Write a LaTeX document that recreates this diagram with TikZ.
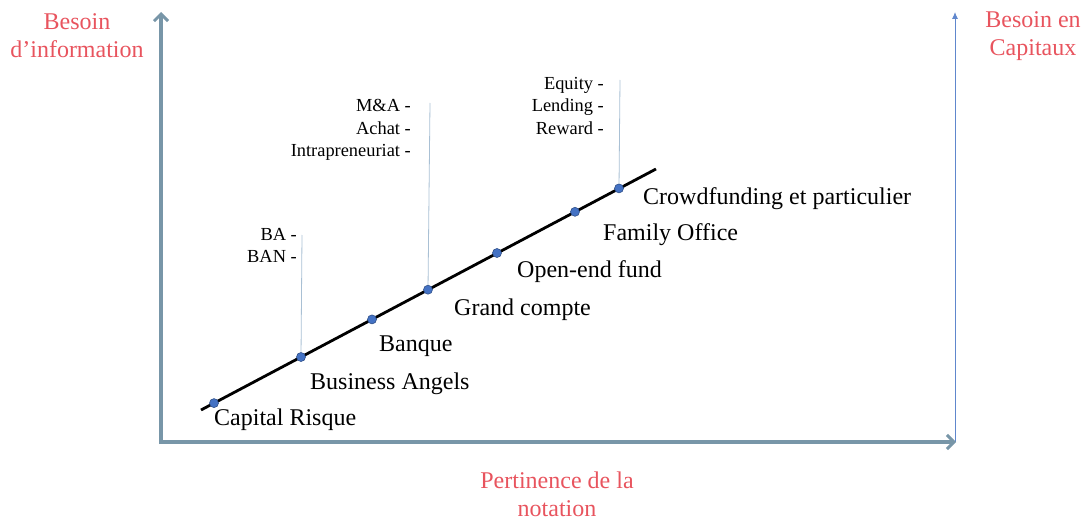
\documentclass[tikz,border=0pt]{standalone}
\usepackage{fontspec}
\setmainfont{Liberation Serif}
\usetikzlibrary{arrows.meta,positioning}
\definecolor{axisgray}{HTML}{7896A8}
\definecolor{titlered}{HTML}{E8545E}
\definecolor{dotblue}{HTML}{4472C4}
\definecolor{stemblue}{HTML}{A9C0D4}
\tikzset{
	axis/.style={axisgray,line width=3.2pt,-{Straight Barb[length=7pt,width=14pt,line width=3pt]}},
	title/.style={titlered,align=center,inner sep=0pt,font=\fontsize{24}{28}\selectfont},
	dot/.style={circle,fill=dotblue,draw=dotblue!70!black,line width=.6pt,inner sep=0pt,minimum size=9pt},
	stage/.style={anchor=west,inner sep=0pt,font=\fontsize{24}{28}\selectfont},
	tags/.style={anchor=north east,align=right,inner sep=0pt,font=\fontsize{18.4}{22.6}\selectfont},
	stem/.style={stemblue,line width=.8pt}
}
\begin{document}
\begin{tikzpicture}[x=1pt,y=-1pt]
	\useasboundingbox (0,0) rectangle (1088,519);
	\coordinate (O) at (161,442);% origin
	\coordinate (Y) at (161,12);
	\coordinate (X) at (956,442);
	\coordinate (R) at (955,12);
	\draw[dotblue!85,line width=.9pt,-{Latex[length=7pt,width=6pt]}] (955,442) -- (R);% right axis
	\draw[axis] (161,444) -- (Y);% left axis
	\draw[axis] (159.4,442) -- (X);% bottom axis
	\node[title] (yname) at (77,36) {Besoin\\d’information};
	\node[title] (rname) at (1033,36) {Besoin en\\Capitaux};
	\node[title] (xname) at (557,494) {Pertinence de la\\notation};
	\coordinate (S) at (201,410);
	\coordinate (E) at (656,169);
	\draw[black,line width=2.8pt] (S) -- (E);% main line
	\node[dot] (vc) at (214,403.1) {};
	\node[dot] (ba) at (301,357) {};
	\node[dot] (bq) at (372,319.4) {};
	\node[dot] (gc) at (428,289.7) {};
	\node[dot] (of) at (497,253) {};
	\node[dot] (fo) at (575,211.8) {};
	\node[dot] (cf) at (619,188.4) {};
	\coordinate (batop) at (302,235);
	\coordinate (gctop) at (430,103);
	\coordinate (cftop) at (620,80);
	\draw[stem] (ba) -- (batop);
	\draw[stem] (gc) -- (gctop);
	\draw[stem] (cf) -- (cftop);
	\node[tags] (batags) at (297,228) {BA -\\BAN -};
	\node[tags] (gctags) at (411,99) {M\&A -\\Achat -\\Intrapreneuriat -};
	\node[tags] (cftags) at (604,77) {Equity -\\Lending -\\Reward -};
	\node[stage] (vclab) at (214,420) {Capital Risque};
	\node[stage] (balab) at (310,384) {Business Angels};
	\node[stage] (bqlab) at (379,346) {Banque};
	\node[stage] (gclab) at (454,310) {Grand compte};
	\node[stage] (oflab) at (517,272) {Open-end fund};
	\node[stage] (folab) at (603,235) {Family Office};
	\node[stage] (cflab) at (643,199) {Crowdfunding et particulier};
\end{tikzpicture}
\end{document}
